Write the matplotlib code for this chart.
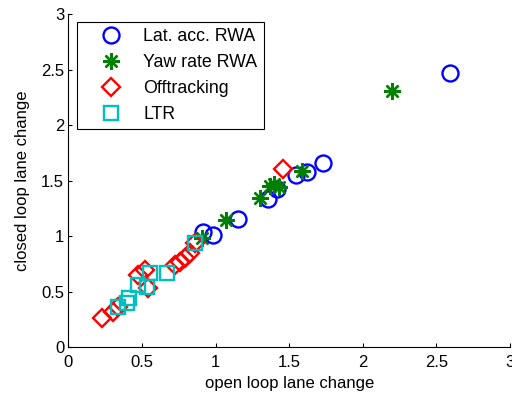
import matplotlib
matplotlib.use("Agg")
import matplotlib.pyplot as plt

lat_x = [0.917, 0.98, 1.15, 1.358, 1.415, 1.546, 1.618, 1.731, 2.59]
lat_y = [1.04, 1.009, 1.15, 1.33, 1.42, 1.55, 1.579, 1.66, 2.47]

yaw_x = [0.906, 1.07, 1.30, 1.37, 1.40, 1.43, 1.584, 2.20]
yaw_y = [0.979, 1.144, 1.34, 1.45, 1.47, 1.44, 1.59, 2.31]

off_x = [0.227, 0.306, 0.34, 0.475, 0.521, 0.543, 0.724, 0.758, 0.792, 0.826, 0.86, 1.46]
off_y = [0.259, 0.318, 0.363, 0.649, 0.694, 0.529, 0.739, 0.769, 0.799, 0.844, 0.934, 1.60]

ltr_x = [0.335, 0.40, 0.41, 0.471, 0.532, 0.555, 0.672, 0.86]
ltr_y = [0.363, 0.40, 0.44, 0.559, 0.543, 0.664, 0.664, 0.934]

labels = ["Lat. acc. RWA", "Yaw rate RWA", "Offtracking", "LTR"]

plt.rcParams['font.family'] = ['Liberation Sans', 'DejaVu Sans']

fig = plt.figure(figsize=(5.12, 3.98), dpi=100)
ax = fig.add_axes([0.1334, 0.1281, 0.8627, 0.8367])

mew = 1.7
ax.plot(lat_x, lat_y, 'o', mfc='none', mec=(0, 0, 1), ms=11.5, mew=mew, label=labels[0])
ax.plot(yaw_x, yaw_y, marker=(8, 2, 0), ls='none', color=(0, 0.5, 0), mec=(0, 0.5, 0),
        ms=12, mew=1.7, label=labels[1])
ax.plot(off_x, off_y, 'D', mfc='none', mec=(1, 0, 0), ms=9.5, mew=mew, label=labels[2])
ax.plot(ltr_x, ltr_y, 's', mfc='none', mec=(0, 0.75, 0.75), ms=10.5, mew=mew, label=labels[3])

ax.set_xlim(0, 3)
ax.set_ylim(0, 3)
ax.set_xticks([0, 0.5, 1, 1.5, 2, 2.5, 3])
ax.set_xticklabels(['0', '0.5', '1', '1.5', '2', '2.5', '3'])
ax.set_yticks([0, 0.5, 1, 1.5, 2, 2.5, 3])
ax.set_yticklabels(['0', '0.5', '1', '1.5', '2', '2.5', '3'])
ax.tick_params(direction='in', length=3, labelsize=12, colors='black', width=0.8)
ax.tick_params(axis='x', pad=6)
ax.tick_params(axis='y', pad=3)
ax.spines['top'].set_visible(False)
ax.spines['right'].set_visible(False)
ax.set_xlabel('open loop lane change', fontsize=12, labelpad=4)
ax.set_ylabel('closed loop lane change', fontsize=12, labelpad=8)

leg = ax.legend(loc='upper left', bbox_to_anchor=(0.15, 0.9447), bbox_transform=fig.transFigure,
                fancybox=False, edgecolor='black', fontsize=12.8, borderpad=0.35,
                handletextpad=0.3, borderaxespad=0, labelspacing=0.5, handlelength=3.1,
                framealpha=1)
leg.get_frame().set_linewidth(0.8)

fig.savefig('out.png', dpi=100)
